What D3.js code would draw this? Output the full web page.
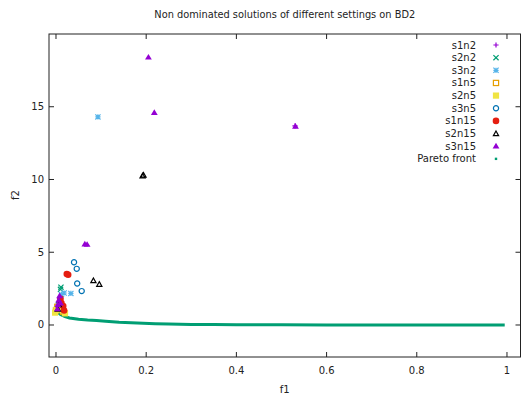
<!DOCTYPE html>
<html>
  <head>
    <title>BD2</title>
    <script src="https://cdn.jsdelivr.net/npm/d3@7"></script>
    <style>
      body { margin: 0; background: #fff; }
      text { font-family: "DejaVu Sans", sans-serif; fill: #222; }
    </style>
  </head>
  <body>
    <svg width="521" height="397" id="mainsvg"></svg>
    <script>
    // series values, [f1, f2]
    const s1n2 = [[0.004, 1.2], [0.006, 1.5], [0.008, 1.8], [0.012, 1.6], [0.530, 13.68]];
    const s2n2 = [[0.011, 2.6], [0.010, 2.45], [0.006, 1.4], [0.004, 1.1]];
    const s3n2 = [[0.093, 14.3], [0.018, 2.2], [0.033, 2.17], [0.012, 2.1], [0.005, 1.3]];
    const s1n5 = [[0.0, 1.0], [0.003, 1.25], [0.01, 1.1], [0.016, 0.9]];
    const s2n5 = [[-0.002, 0.85], [0.02, 0.8], [0.015, 1.0], [0.008, 1.2], [0.001, 1.05]];
    const s3n5 = [[0.040, 4.31], [0.046, 3.86], [0.047, 2.85], [0.057, 2.33]];
    const s1n15 = [[0.024, 3.5], [0.027, 3.45], [0.012, 1.5], [0.016, 1.3], [0.018, 1.0], [0.010, 1.8]];
    const s2n15 = [[0.194, 10.3], [0.192, 10.25], [0.083, 3.05], [0.096, 2.8], [0.004, 1.1], [0.006, 1.4]];
    const s3n15 = [[0.205, 18.4], [0.218, 14.6], [0.531, 13.65], [0.069, 5.53], [0.064, 5.55],
                   [0.008, 2.0], [0.006, 1.7], [0.004, 1.4], [0.010, 1.5], [0.003, 1.1]];
    const pareto = [[0, 1.0], [0.005, 0.85], [0.01, 0.72], [0.02, 0.57], [0.03, 0.48], [0.05, 0.39],
                    [0.07, 0.34], [0.09, 0.31], [0.11, 0.26], [0.14, 0.19], [0.18, 0.13], [0.22, 0.08],
                    [0.25, 0.06], [0.3, 0.04], [0.35, 0.03], [0.4, 0.02], [0.5, 0.01], [0.6, 0.005],
                    [0.7, 0.003], [0.8, 0.002], [0.9, 0.001], [0.995, 0.0]];

    const xTicks = [0, 0.2, 0.4, 0.6, 0.8, 1];
    const yTicks = [0, 5, 10, 15];
    const seriesNames = ['s1n2', 's2n2', 's3n2', 's1n5', 's2n5', 's3n5', 's1n15', 's2n15', 's3n15', 'Pareto front'];

    const series = [
      {name: 's1n2', data: s1n2, color: '#9400d3', shape: 'plus'},
      {name: 's2n2', data: s2n2, color: '#009e73', shape: 'cross'},
      {name: 's3n2', data: s3n2, color: '#56b4e9', shape: 'star'},
      {name: 's1n5', data: s1n5, color: '#e69f00', shape: 'square'},
      {name: 's2n5', data: s2n5, color: '#f0e442', shape: 'fsquare'},
      {name: 's3n5', data: s3n5, color: '#0072b2', shape: 'circle'},
      {name: 's1n15', data: s1n15, color: '#e51e10', shape: 'fcircle'},
      {name: 's2n15', data: s2n15, color: '#000000', shape: 'tri'},
      {name: 's3n15', data: s3n15, color: '#9400d3', shape: 'ftri'}
    ];

    let svg = d3.select('#mainsvg');
    const L = 49, R = 520.5, T = 34, B = 357;

    let x = d3.scaleLinear().domain([-0.0155, 1.03]).range([L, R]);
    let y = d3.scaleLinear().domain([-2.2, 20]).range([B, T]);

    // pareto front drawn first (under markers)
    svg.append('path')
      .datum(pareto)
      .attr('d', d3.line().x(d => x(d[0])).y(d => y(d[1])))
      .attr('fill', 'none')
      .attr('stroke', '#009e73')
      .attr('stroke-width', 3);

    function drawMark(g, shape, color) {
      const s = 2.6;
      if (shape === 'plus') {
        g.append('path').attr('d', `M${-s},0H${s}M0,${-s}V${s}`).attr('stroke', color).attr('stroke-width', 1.2);
      } else if (shape === 'cross') {
        g.append('path').attr('d', `M${-s},${-s}L${s},${s}M${-s},${s}L${s},${-s}`).attr('stroke', color).attr('stroke-width', 1.2);
      } else if (shape === 'star') {
        g.append('path').attr('d', `M${-s},0H${s}M0,${-s}V${s}M${-s},${-s}L${s},${s}M${-s},${s}L${s},${-s}`)
          .attr('stroke', color).attr('stroke-width', 1.2);
      } else if (shape === 'square') {
        g.append('rect').attr('x', -s).attr('y', -s).attr('width', 2 * s).attr('height', 2 * s)
          .attr('fill', 'none').attr('stroke', color).attr('stroke-width', 1.2);
      } else if (shape === 'fsquare') {
        g.append('rect').attr('x', -s - 0.5).attr('y', -s - 0.5).attr('width', 2 * s + 1).attr('height', 2 * s + 1)
          .attr('fill', color);
      } else if (shape === 'circle') {
        g.append('circle').attr('r', s).attr('fill', 'none').attr('stroke', color).attr('stroke-width', 1.2);
      } else if (shape === 'fcircle') {
        g.append('circle').attr('r', s + 0.7).attr('fill', color);
      } else if (shape === 'tri') {
        g.append('path').attr('d', `M0,${-s}L${s},${s * 0.8}L${-s},${s * 0.8}Z`)
          .attr('fill', 'none').attr('stroke', color).attr('stroke-width', 1.2);
      } else if (shape === 'ftri') {
        g.append('path').attr('d', `M0,${-s - 0.8}L${s + 0.8},${s * 0.9}L${-s - 0.8},${s * 0.9}Z`).attr('fill', color);
      } else if (shape === 'dot') {
        g.append('rect').attr('x', -1.2).attr('y', -1.2).attr('width', 2.4).attr('height', 2.4).attr('fill', color);
      }
    }

    series.forEach(sr => {
      sr.data.forEach(d => {
        let g = svg.append('g').attr('transform', `translate(${x(d[0])},${y(d[1])})`);
        drawMark(g, sr.shape, sr.color);
      });
    });

    // border with mirrored ticks
    svg.append('rect').attr('x', L).attr('y', T).attr('width', R - L).attr('height', B - T)
      .attr('fill', 'none').attr('stroke', '#222').attr('stroke-width', 1);

    xTicks.forEach(t => {
      svg.append('line').attr('x1', x(t)).attr('x2', x(t)).attr('y1', B).attr('y2', B - 5).attr('stroke', '#222');
      svg.append('line').attr('x1', x(t)).attr('x2', x(t)).attr('y1', T).attr('y2', T + 5).attr('stroke', '#222');
      svg.append('text').attr('x', x(t)).attr('y', 374).attr('text-anchor', 'middle')
        .attr('font-size', 10).text(t);
    });
    yTicks.forEach(t => {
      svg.append('line').attr('x1', L).attr('x2', L + 5).attr('y1', y(t)).attr('y2', y(t)).attr('stroke', '#222');
      svg.append('line').attr('x1', R).attr('x2', R - 5).attr('y1', y(t)).attr('y2', y(t)).attr('stroke', '#222');
      svg.append('text').attr('x', 44).attr('y', y(t)).attr('dy', '0.35em').attr('text-anchor', 'end')
        .attr('font-size', 10).text(t);
    });

    svg.append('text').attr('x', (L + R) / 2).attr('y', 18).attr('text-anchor', 'middle')
      .attr('font-size', 9.8).text('Non dominated solutions of different settings on BD2');
    svg.append('text').attr('x', (L + R) / 2).attr('y', 393).attr('text-anchor', 'middle')
      .attr('font-size', 10).text('f1');
    svg.append('text').attr('transform', 'translate(19,195) rotate(-90)').attr('text-anchor', 'middle')
      .attr('font-size', 10).text('f2');

    // legend
    const shapes = series.map(s => s.shape).concat(['dot']);
    const colors = series.map(s => s.color).concat(['#009e73']);
    seriesNames.forEach((n, i) => {
      const ly = 45 + i * 12.65;
      svg.append('text').attr('x', 476).attr('y', ly).attr('dy', '0.35em').attr('text-anchor', 'end')
        .attr('font-size', 10).text(n);
      let g = svg.append('g').attr('transform', `translate(496,${ly})`);
      drawMark(g, shapes[i], colors[i]);
    });
    </script>
  </body>
</html>
